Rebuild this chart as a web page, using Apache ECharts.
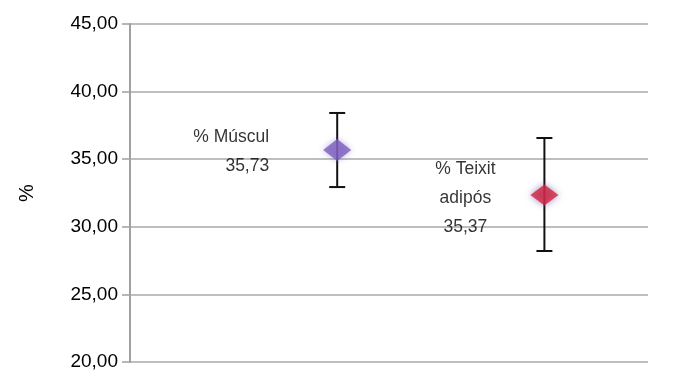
<!DOCTYPE html>
<html><head><meta charset="utf-8">
<script src="https://cdn.jsdelivr.net/npm/echarts@6/dist/echarts.min.js"></script>
<style>html,body{margin:0;padding:0;background:#fff}#c{width:700px;height:385px}</style>
</head><body><div id="c"></div>
<script>
var categories = ["% Múscul", "% Teixit adipós"];
var positions = [1, 2];
var means = [35.68, 32.35];
var errLow = [32.94, 28.21];
var errHigh = [38.42, 36.57];
var pointLabels = ["% Múscul\n35,73", "% Teixit\nadipós\n35,37"];
var yTicks = [20, 25, 30, 35, 40, 45];

var chart = echarts.init(document.getElementById('c'));
var font = "Helvetica, 'Liberation Sans', Arial, sans-serif";
chart.setOption({
  animation: false,
  grid: {left: 130, right: 52, top: 24, bottom: 23},
  xAxis: {type: 'value', min: 0, max: 2.5, show: false},
  yAxis: {
    type: 'value', min: yTicks[0], max: yTicks[yTicks.length - 1], interval: 5,
    name: '%', nameLocation: 'middle', nameGap: 93, nameRotate: 90,
    nameTextStyle: {fontFamily: font, fontSize: 20, color: '#000'},
    axisLine: {show: true, lineStyle: {color: '#a0a0a0', width: 2}},
    axisTick: {show: true, length: 8, lineStyle: {color: '#a0a0a0', width: 1.5}},
    splitLine: {lineStyle: {color: '#a8a8a8', width: 1.5}},
    axisLabel: {fontFamily: font, fontSize: 19, color: '#000', margin: 12,
      formatter: function (v) { return v.toFixed(2).replace('.', ','); }}
  },
  series: [
    {
      type: 'custom',
      renderItem: function (params, api) {
        var x = api.value(0);
        var lo = api.coord([x, api.value(1)]);
        var hi = api.coord([x, api.value(2)]);
        var w = 8;
        var st = {stroke: '#111', lineWidth: 2};
        return {type: 'group', children: [
          {type: 'line', shape: {x1: lo[0], y1: lo[1], x2: hi[0], y2: hi[1]}, style: st},
          {type: 'line', shape: {x1: lo[0] - w, y1: lo[1], x2: lo[0] + w, y2: lo[1]}, style: st},
          {type: 'line', shape: {x1: hi[0] - w, y1: hi[1], x2: hi[0] + w, y2: hi[1]}, style: st}
        ]};
      },
      data: positions.map(function (p, i) { return [p, errLow[i], errHigh[i]]; }),
      z: 2
    },
    {
      type: 'scatter',
      symbol: 'diamond',
      z: 3,
      data: positions.map(function (p, i) {
        return {
          value: [p, means[i]],
          name: categories[i],
          symbolSize: i === 0 ? [28, 22] : [28, 21],
          itemStyle: i === 0
            ? {color: '#7d5fbf', shadowColor: 'rgba(120,100,190,0.6)', shadowBlur: 6}
            : {color: '#d3243c', shadowColor: 'rgba(110,80,170,0.8)', shadowBlur: 7},
          label: {
            show: true,
            formatter: pointLabels[i],
            position: 'inside',
            offset: i === 0 ? [-68, 2] : [-79, 3],
            align: i === 0 ? 'right' : 'center',
            fontFamily: font, fontSize: 17.5, color: '#000',
            lineHeight: i === 0 ? 29 : 29
          }
        };
      })
    }
  ]
});
</script></body></html>
